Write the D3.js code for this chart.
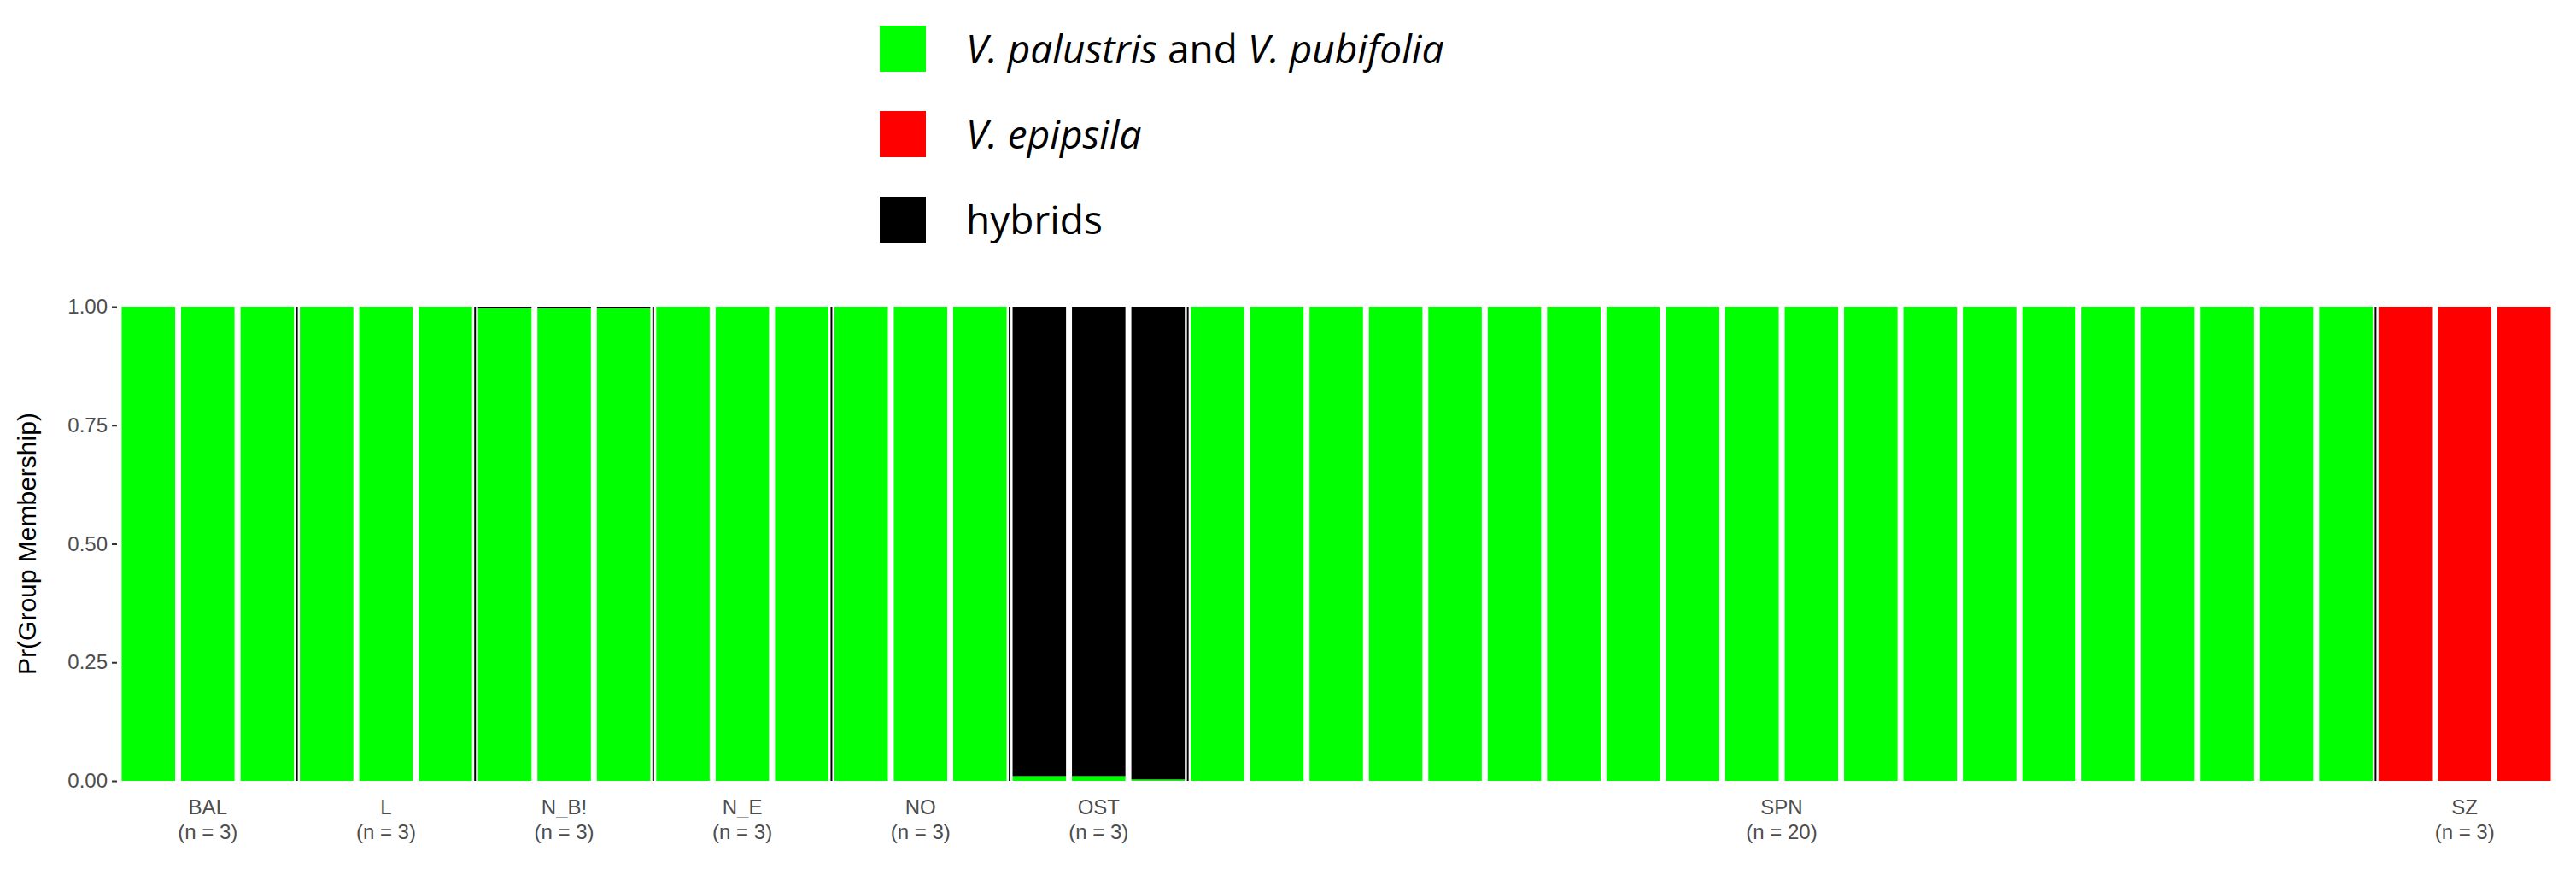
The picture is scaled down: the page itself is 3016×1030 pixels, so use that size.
<!DOCTYPE html>
<html><head><meta charset="utf-8">
<script src="https://cdn.jsdelivr.net/npm/d3@7"></script>
<style>body{margin:0;background:#fff}</style></head><body>
<svg id="c" width="3016" height="1030"></svg>
<script>
const groups = ["BAL","L","N_B!","N_E","NO","OST","SPN","SZ"];
const groupSizes = [3,3,3,3,3,3,20,3];
const groupOrder = ["pal","epi","hyb"];
const groupColors = ["#00FF00","#FF0000","#000000"];
const legendLabels = [["V. palustris","and","V. pubifolia"],["V. epipsila"],["hybrids"]];
// per-individual membership probabilities: [palustris, epipsila, hybrid]
const palVals = [1,1,1, 1,1,1, 0.997,0.997,0.997, 1,1,1, 1,1,1, 0.01,0.01,0.003,
  1,1,1,1,1,1,1,1,1,1,1,1,1,1,1,1,1,1,1,1, 0,0,0];
const epiVals = [0,0,0, 0,0,0, 0,0,0, 0,0,0, 0,0,0, 0,0,0,
  0,0,0,0,0,0,0,0,0,0,0,0,0,0,0,0,0,0,0,0, 1,1,1];
const hybVals = [0,0,0, 0,0,0, 0.003,0.003,0.003, 0,0,0, 0,0,0, 0.99,0.99,0.997,
  0,0,0,0,0,0,0,0,0,0,0,0,0,0,0,0,0,0,0,0, 0,0,0];
const yTicks = [0,0.25,0.5,0.75,1];

const svg = d3.select("#c");
const m = {l:139, r:2990, t:359, b:914};
const ids = d3.range(palVals.length);
const x = d3.scaleBand().domain(ids).range([m.l,m.r]).paddingInner(0.1).paddingOuter(0.05);
const y = d3.scaleLinear().domain([0,1]).range([m.b,m.t]);

ids.forEach(i=>{
  let base=0;
  [palVals[i],epiVals[i],hybVals[i]].forEach((v,k)=>{
    if(v>0) svg.append("rect").attr("x",x(i)).attr("width",x.bandwidth())
      .attr("y",y(base+v)).attr("height",y(base)-y(base+v)).attr("fill",groupColors[k]);
    base+=v;
  });
});
// group boundaries
let cum=0; const centers=[];
groupSizes.forEach((n,gi)=>{
  const a=x(cum), b=x(cum+n-1)+x.bandwidth();
  centers.push((a+b)/2);
  if(gi>0){ const xx = x(cum)-x.step()*x.paddingInner()/2;
    svg.append("line").attr("x1",xx).attr("x2",xx).attr("y1",y(1)).attr("y2",y(0)).attr("stroke","#000").attr("stroke-width",2);}
  cum+=n;
});
// y axis
const ya = svg.append("g").attr("transform",`translate(${m.l-2},0)`)
  .call(d3.axisLeft(y).tickValues(yTicks).tickFormat(d3.format(".2f")).tickSize(6));
ya.select(".domain").remove();
ya.selectAll("line").attr("stroke","#333").attr("stroke-width",2);
ya.selectAll("text").attr("font-family","Liberation Sans, Arial").attr("font-size",24).attr("fill","#4d4d4d").attr("dx",-2);
svg.append("text").attr("transform",`translate(42,${(m.t+m.b)/2}) rotate(-90)`)
  .attr("text-anchor","middle").attr("font-family","Liberation Sans, Arial").attr("font-size",30).text("Pr(Group Membership)");
// x labels
groups.forEach((g,i)=>{
  const t=svg.append("text").attr("text-anchor","middle").attr("font-family","Liberation Sans, Arial")
    .attr("font-size",24).attr("fill","#4d4d4d");
  t.append("tspan").attr("x",centers[i]).attr("y",953).text(g);
  t.append("tspan").attr("x",centers[i]).attr("y",982).text(`(n = ${groupSizes[i]})`);
});
// legend
legendLabels.forEach((parts,i)=>{
  const cy=57+i*100;
  svg.append("rect").attr("x",1030).attr("y",cy-27).attr("width",54).attr("height",54).attr("fill",groupColors[i]);
  const t=svg.append("text").attr("x",1131).attr("y",cy+17).attr("font-family","Open Sans").attr("font-size",46);
  parts.forEach(p=>{
    t.append("tspan").attr("font-style",(p==="and"||p==="hybrids")?"normal":"italic").text(p+" ");
  });
});
</script></body></html>
